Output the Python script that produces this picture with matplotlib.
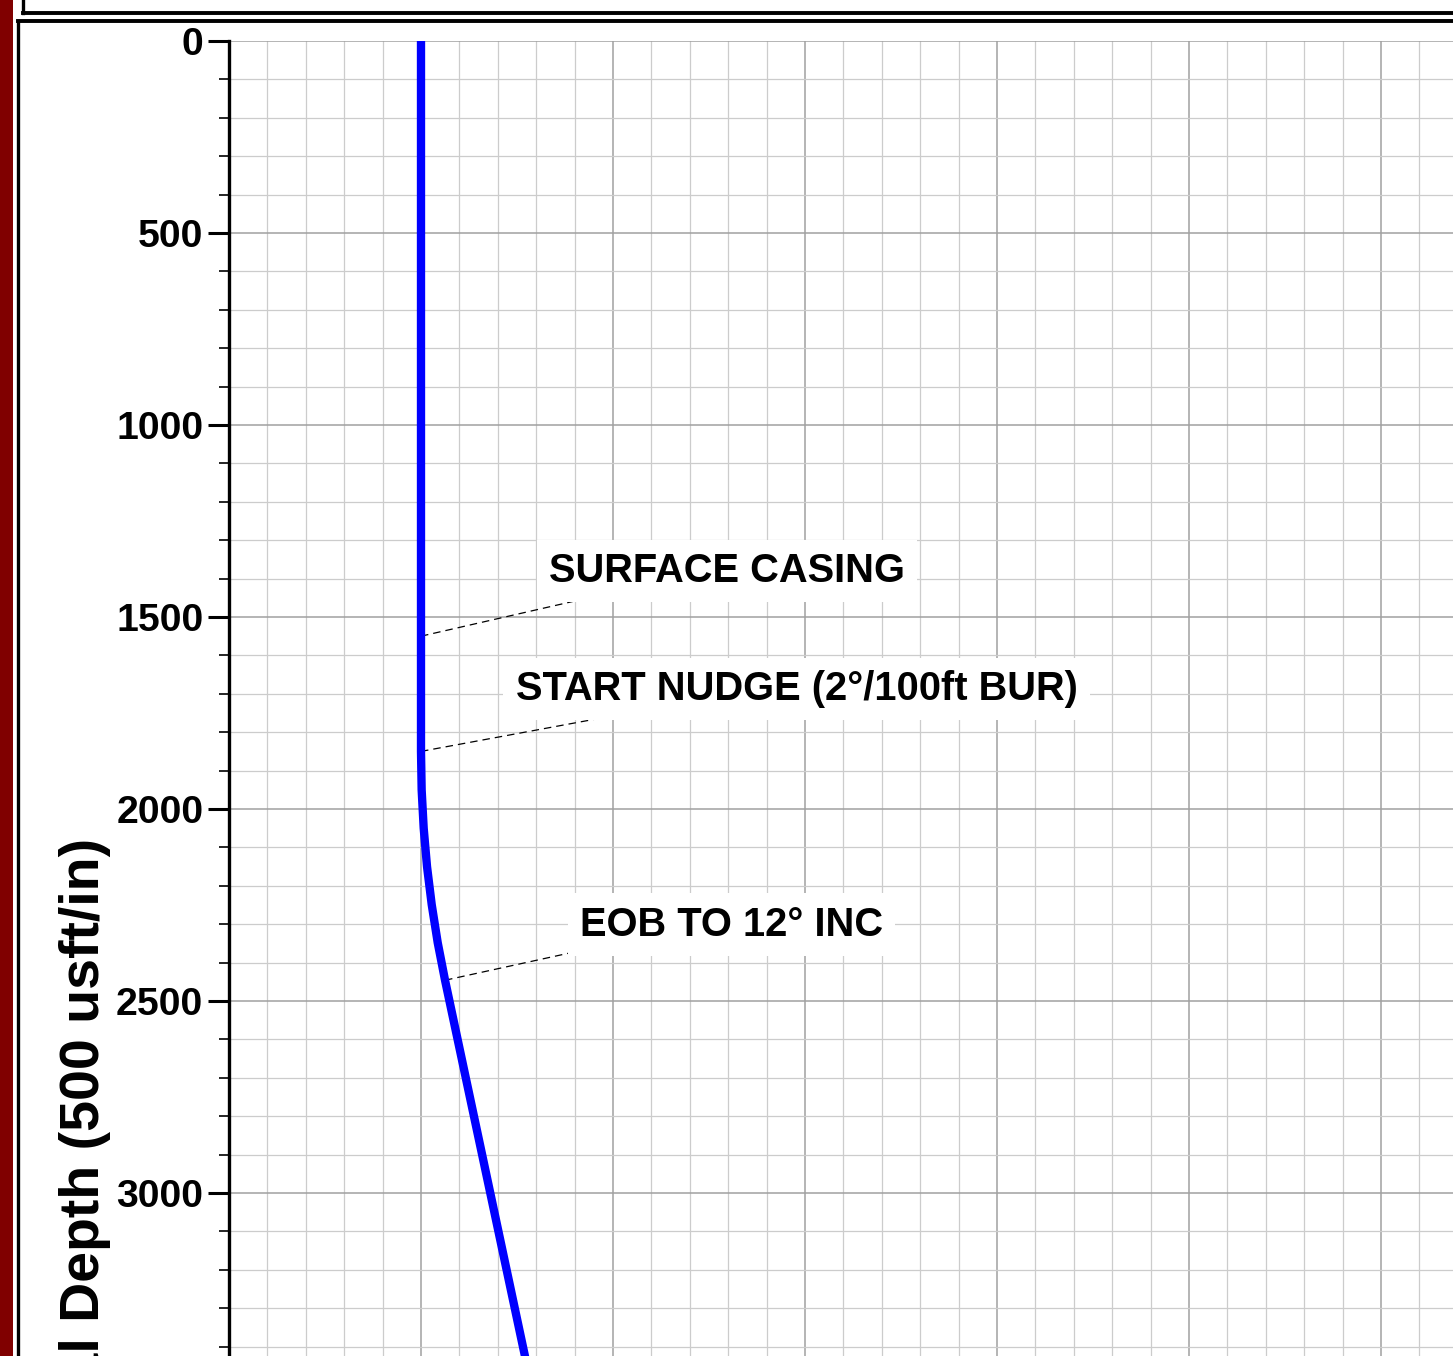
import matplotlib.pyplot as plt
from matplotlib.ticker import MultipleLocator
from matplotlib.lines import Line2D
from matplotlib.patches import Rectangle

plt.rcParams['font.family'] = ['Liberation Sans', 'DejaVu Sans']

# well path stations (vertical section / TVD, usft)
vs = [0, 0, 1.7, 7.0, 15.7, 27.9, 43.5, 62.6, 286.7]
tvd = [0, 1850, 1950, 2050, 2150, 2249, 2348, 2446, 3500]

# annotations: label, point on well, leader end, text anchor
labels = ['SURFACE CASING', 'START NUDGE (2°/100ft BUR)', 'EOB TO 12° INC']
well_pts = [(0, 1550), (0, 1850), (62.6, 2446)]
leader_ends = [(411, 1456), (497, 1758), (401, 2372)]
text_pos = [(333, 1409), (247, 1716), (414, 2330)]

yticks = [0, 500, 1000, 1500, 2000, 2500, 3000]

W, H = 1453, 1356
fig = plt.figure(figsize=(W / 100, H / 100), dpi=100)
ax = fig.add_axes([229 / W, 0, 1 - 229 / W, 1 - 41 / H])

ax.set_xlim(-500, 2687.5)
ax.set_ylim(3424.5, 0)

ax.xaxis.set_major_locator(MultipleLocator(500))
ax.xaxis.set_minor_locator(MultipleLocator(100))
ax.yaxis.set_major_locator(MultipleLocator(500))
ax.yaxis.set_minor_locator(MultipleLocator(100))
ax.grid(which='major', color='#a0a0a0', lw=1.1)
ax.grid(which='minor', color='#cccccc', lw=0.9)
ax.set_axisbelow(True)

for s in ['top', 'right', 'bottom']:
    ax.spines[s].set_visible(False)
ax.spines['left'].set_linewidth(2.4)
ax.tick_params(axis='x', which='both', length=0, labelbottom=False)
ax.tick_params(axis='y', which='major', length=15, width=2.2, pad=3.5,
               labelsize=28.3)
ax.tick_params(axis='y', which='minor', length=7.5, width=1.2)
ax.set_yticks(yticks)
ax.set_yticklabels([str(t) for t in yticks], fontweight='bold')

ax.plot(vs, tvd, color='#0000ff', lw=6, solid_capstyle='round', zorder=5)

for lab, wp, le, tp in zip(labels, well_pts, leader_ends, text_pos):
    ax.plot([wp[0], le[0]], [wp[1], le[1]], color='black', lw=0.9,
            ls=(0, (6, 4)), zorder=4)
    ax.text(tp[0], tp[1], lab, fontsize=28.7, fontweight='bold',
            ha='left', va='baseline', zorder=6,
            bbox=dict(facecolor='white', edgecolor='none', pad=9))

# page frame
fig.add_artist(Rectangle((0, 0), 13 / W, 1, transform=fig.transFigure,
                         facecolor='#800000', edgecolor='none'))
fig.add_artist(Line2D([17.5 / W, 17.5 / W], [0, 1 - 21 / H],
                      transform=fig.transFigure, color='black', lw=2.4))
fig.add_artist(Line2D([17.5 / W, 1], [1 - 21 / H, 1 - 21 / H],
                      transform=fig.transFigure, color='black', lw=2.8))
fig.add_artist(Line2D([22.5 / W, 22.5 / W], [1 - 12.5 / H, 1],
                      transform=fig.transFigure, color='black', lw=2.4))
fig.add_artist(Line2D([22.5 / W, 1], [1 - 12.5 / H, 1 - 12.5 / H],
                      transform=fig.transFigure, color='black', lw=2.8))

fig.text(85 / W, 1 - 838 / H, 'True Vertical Depth (500 usft/in)',
         rotation=90, ha='center', va='top', fontsize=40, fontweight='bold')

fig.savefig('out.png', dpi=100)
